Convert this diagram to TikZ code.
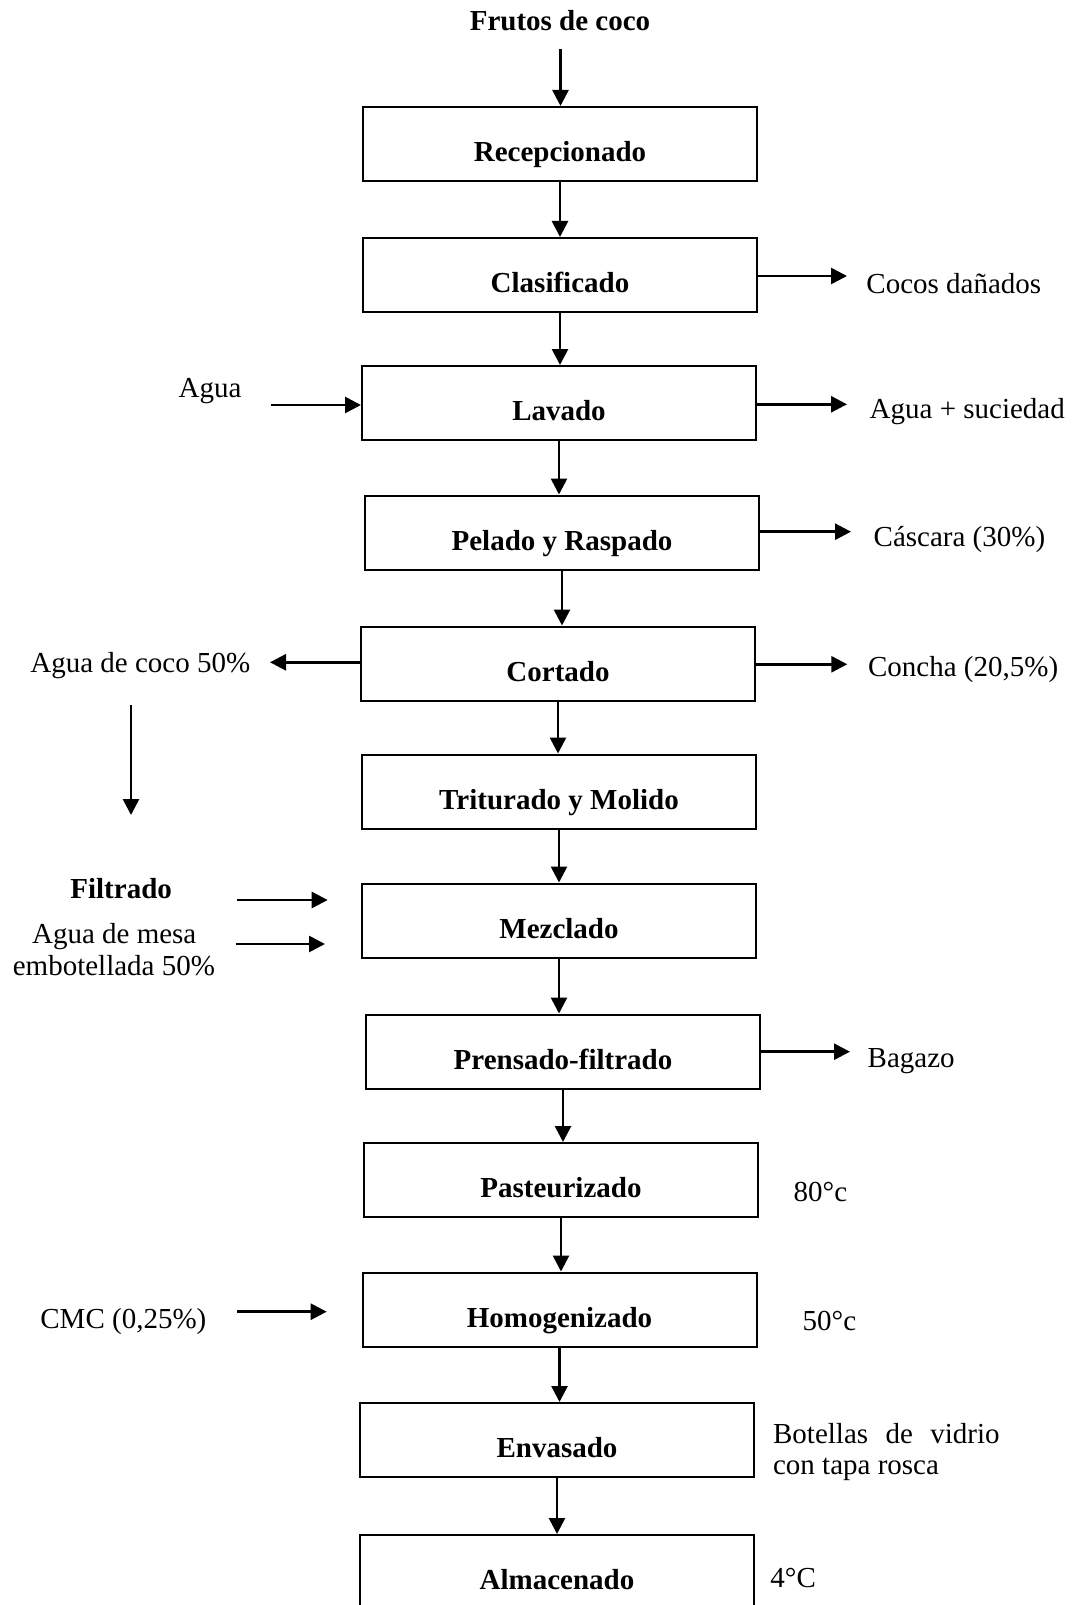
\documentclass[tikz,border=0pt]{standalone}
\usepackage{fontspec}
\setmainfont{Liberation Serif}
\usetikzlibrary{arrows.meta}

\begin{document}
\begin{tikzpicture}[
    x=0.5pt, y=-0.5pt,
    every node/.style={font=\fontsize{14.5}{16}\selectfont},
    stage/.style={draw, line width=1pt, minimum width=197pt, minimum height=37pt,
                  inner sep=0pt, text height=17.5pt, text depth=0pt,
                  font=\fontsize{14.5}{16}\selectfont\bfseries},
    lbl/.style={anchor=base west, inner sep=0pt},
    flow/.style={line width=1.35pt, -{Triangle[width=8pt,length=8pt]}}
  ]
  \clip (0,0) rectangle (1072,1605);

  % process stages
  \node[stage] (rec) at (560,144)  {Recepcionado};
  \node[stage] (cla) at (560,275)  {Clasificado};
  \node[stage] (lav) at (559,403)  {Lavado};
  \node[stage] (pel) at (562,532.5) {Pelado y Raspado};
  \node[stage] (cor) at (558,663.5) {Cortado};
  \node[stage] (tri) at (559,791.5) {Triturado y Molido};
  \node[stage] (mez) at (559,920.5) {Mezclado};
  \node[stage] (pre) at (563,1051.5) {Prensado-filtrado};
  \node[stage] (pas) at (561,1180) {Pasteurizado};
  \node[stage] (hom) at (559.5,1309.5) {Homogenizado};
  \node[stage] (env) at (557,1440) {Envasado};
  \node[stage] (alm) at (557,1572) {Almacenado};

  % raw material
  \node[anchor=base, inner sep=0pt, font=\fontsize{14.5}{16}\selectfont\bfseries]
    (fru) at (560,30.7) {Frutos de coco};
  \coordinate (fru-out) at (560.5,49);
  \draw[flow] (fru-out) -- (fru-out |- rec.north);

  % main line
  \foreach \a/\b in {rec/cla, cla/lav, lav/pel, pel/cor, cor/tri, tri/mez,
                     mez/pre, pre/pas, pas/hom, hom/env, env/alm}
    \draw[flow] (\a.south) -- (\a.south |- \b.north);

  % outputs on the right
  \node[lbl] (cocos) at (866,293.8) {Cocos dañados};
  \coordinate (cla-out) at (847,276);
  \draw[flow] (cla.east |- cla-out) -- (cla-out);

  \node[lbl] (sucio) at (869.3,418.3) {Agua + suciedad};
  \coordinate (lav-out) at (847,404.3);
  \draw[flow] (lav.east |- lav-out) -- (lav-out);

  \node[lbl] (casc) at (873.3,546) {Cáscara (30\%)};
  \coordinate (pel-out) at (851,531.7);
  \draw[flow] (pel.east |- pel-out) -- (pel-out);

  \node[lbl] (concha) at (867.7,676) {Concha (20,5\%)};
  \coordinate (cor-out) at (847.3,664.3);
  \draw[flow] (cor.east |- cor-out) -- (cor-out);

  \node[lbl] (bagazo) at (867.3,1067.8) {Bagazo};
  \coordinate (pre-out) at (850,1051.7);
  \draw[flow] (pre.east |- pre-out) -- (pre-out);

  % conditions
  \node[lbl] (t80) at (793.3,1201.2) {80°c};
  \node[lbl] (t50) at (802.3,1330.5) {50°c};
  \node[lbl] (bot1) at (772.7,1443.8) {\makebox[113.3pt][s]{Botellas de vidrio}};
  \node[lbl] (bot2) at (772.7,1474.8) {con tapa rosca};
  \node[lbl] (t4) at (770,1587.2) {4°C};

  % inputs on the left
  \node[lbl] (agua) at (178.3,397.8) {Agua};
  \coordinate (agua-in) at (270.7,405);
  \draw[flow] (agua-in) -- (lav.west |- agua-in);

  \node[lbl] (acoco) at (30,672.2) {Agua de coco 50\%};
  \coordinate (cor-left) at (270,662.3);
  \draw[flow] (cor.west |- cor-left) -- (cor-left);

  \coordinate (acoco-a) at (131,705);
  \coordinate (acoco-b) at (131,815);
  \draw[flow] (acoco-a) -- (acoco-b);

  \node[lbl, font=\fontsize{14.5}{16}\selectfont\bfseries] (filt) at (70,898.5) {Filtrado};
  \coordinate (filt-a) at (236.7,900);
  \coordinate (filt-b) at (327.7,900);
  \draw[flow] (filt-a) -- (filt-b);

  \node[anchor=base, inner sep=0pt] (mesa1) at (114.2,943.8) {Agua de mesa};
  \node[anchor=base, inner sep=0pt] (mesa2) at (113.9,975.5) {embotellada 50\%};
  \coordinate (mesa-a) at (235.7,944);
  \coordinate (mesa-b) at (325,944);
  \draw[flow] (mesa-a) -- (mesa-b);

  \node[lbl] (cmc) at (40,1328.8) {CMC (0,25\%)};
  \coordinate (cmc-a) at (237.3,1311.7);
  \coordinate (cmc-b) at (326.7,1311.7);
  \draw[flow] (cmc-a) -- (cmc-b);
\end{tikzpicture}
\end{document}
